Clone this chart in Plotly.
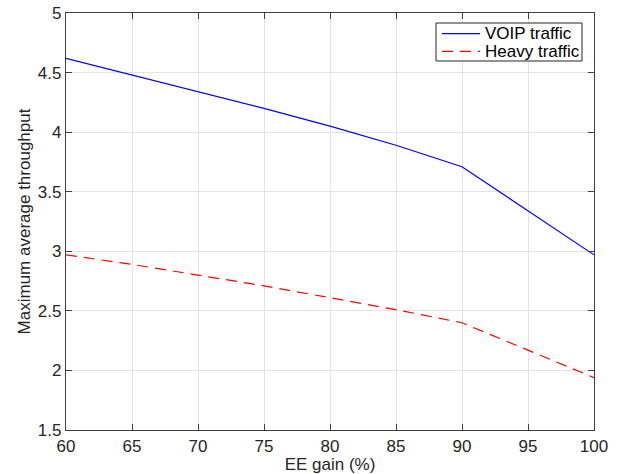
import plotly.graph_objects as go

ee_gain = [60, 65, 70, 75, 80, 85, 90, 95, 100]
voip = [4.62, 4.48, 4.34, 4.20, 4.05, 3.89, 3.71, 3.34, 2.97]
heavy = [2.97, 2.89, 2.80, 2.71, 2.61, 2.51, 2.40, 2.17, 1.94]
x_ticks = [60, 65, 70, 75, 80, 85, 90, 95, 100]
y_ticks = [1.5, 2, 2.5, 3, 3.5, 4, 4.5, 5]
y_tick_labels = ["1.5", "2", "2.5", "3", "3.5", "4", "4.5", "5"]
series_names = ["VOIP traffic", "Heavy traffic"]

FONT = "Liberation Sans, Arial, Helvetica"
BLUE_LINE = dict(color="#0000ff", width=1.2)
RED_LINE = dict(color="#ff0000", width=1.2, dash="11px,7px")

fig = go.Figure()
fig.add_trace(go.Scatter(x=ee_gain, y=voip, mode="lines", name=series_names[0],
                         line=BLUE_LINE, showlegend=False))
fig.add_trace(go.Scatter(x=ee_gain, y=heavy, mode="lines", name=series_names[1],
                         line=RED_LINE, showlegend=False))

axis_common = dict(
    showline=True, linecolor="#404040", linewidth=1.3, mirror="ticks",
    ticks="inside", ticklen=6, tickcolor="#404040", tickwidth=1.3,
    showgrid=True, gridcolor="#e3e3e3", gridwidth=1, zeroline=False,
    tickfont=dict(family=FONT, size=17, color="#262626"),
    automargin=False,
)
fig.update_xaxes(range=[60, 100], tickvals=x_ticks,
                 title=dict(text="EE gain (%)", standoff=0,
                            font=dict(family=FONT, size=17, color="#262626")),
                 **axis_common)
fig.update_yaxes(range=[1.5, 5], tickvals=y_ticks, ticktext=y_tick_labels,
                 title=dict(text="Maximum average throughput", standoff=2,
                            font=dict(family=FONT, size=17, color="#262626")),
                 **axis_common)

# Legend box (drawn manually to match compact MATLAB-style legend)
legend_box = dict(x0=0.7008, x1=0.9773, y0=0.8849, y1=0.9760)
sample_x = (0.7121, 0.7841)
row_y = [0.9504, 0.9081]
text_x = 0.7898

shapes = [dict(type="rect", xref="paper", yref="paper", **legend_box,
               line=dict(color="#262626", width=1), fillcolor="white", layer="above")]
annotations = []
for name, style, yy in zip(series_names, [BLUE_LINE, RED_LINE], row_y):
    shapes.append(dict(type="line", xref="paper", yref="paper",
                       x0=sample_x[0], x1=sample_x[1], y0=yy, y1=yy,
                       line=style, layer="above"))
    annotations.append(dict(text=name, xref="paper", yref="paper", x=text_x, y=yy,
                            xanchor="left", yanchor="middle", showarrow=False,
                            font=dict(family=FONT, size=17, color="#000000")))

fig.update_layout(
    width=626, height=474,
    margin=dict(l=66, r=32, t=13, b=44, autoexpand=False),
    plot_bgcolor="white", paper_bgcolor="white",
    shapes=shapes, annotations=annotations,
    showlegend=False,
)
fig.write_html("out.html", config={"displayModeBar": False},
               post_script="document.body.style.margin='0';document.body.style.padding='0';")
